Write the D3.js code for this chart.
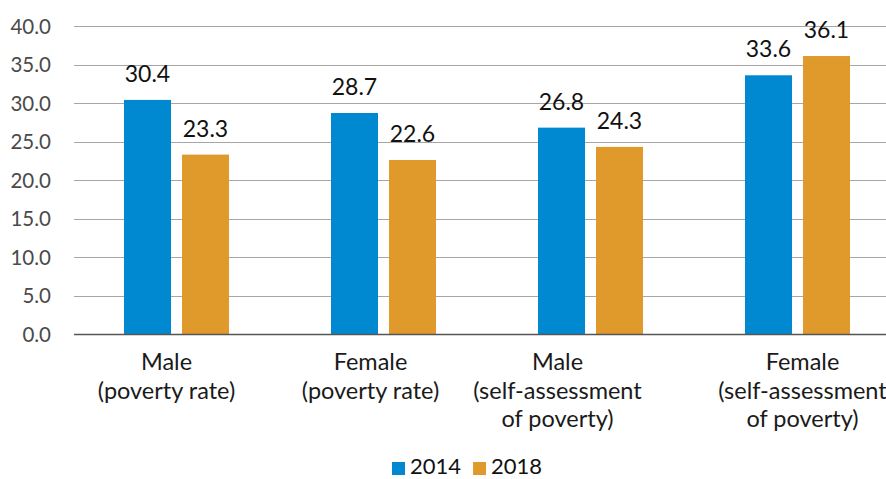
<!DOCTYPE html>
<html><head><meta charset="utf-8">
<script src="https://cdn.jsdelivr.net/npm/d3@7"></script>
<style>
html,body{margin:0;padding:0;background:#fff;}
svg{display:block;font-family:Lato, "Open Sans", sans-serif;}
</style></head>
<body>
<svg id="chart" width="886" height="479"></svg>
<script>
const categories = [
  ["Male", "(poverty rate)"],
  ["Female", "(poverty rate)"],
  ["Male", "(self-assessment", "of poverty)"],
  ["Female", "(self-assessment", "of poverty)"]
];
const seriesNames = ["2014", "2018"];
const values2014 = [30.4, 28.7, 26.8, 33.6];
const values2018 = [23.3, 22.6, 24.3, 36.1];
const yTicks = [0, 5, 10, 15, 20, 25, 30, 35, 40];

// layout constants (not data)
const colors = {"2014": "#0088D0", "2018": "#E09A2B"};
const labelDx = [-10, -13, -33, 5];

const svg = d3.select("#chart");
const plotLeft = 74, plotRight = 886, y0 = 334, yTop = 26;

const x = d3.scaleBand().domain(d3.range(categories.length)).range([73, 901]);
const xs = d3.scaleBand().domain(seriesNames).range([-52.5, 52.5]).paddingInner(0.19);
const y = d3.scaleLinear().domain([0, 40]).range([y0, yTop]);

// gridlines
svg.append("g").selectAll("line").data(yTicks.filter(d => d > 0)).join("line")
  .attr("x1", plotLeft).attr("x2", plotRight)
  .attr("y1", d => Math.round(y(d)) + 0.5).attr("y2", d => Math.round(y(d)) + 0.5)
  .attr("stroke", "#A6A6A6").attr("stroke-width", 1);

// y axis labels
const yAxis = d3.axisLeft(y).tickValues(yTicks).tickFormat(d3.format(".1f")).tickSize(0).tickPadding(0);
const gy = svg.append("g").attr("transform", "translate(51,0)").call(yAxis);
gy.select(".domain").remove();
gy.selectAll("text").attr("font-size", 20.5).attr("fill", "#4a4a4a").attr("font-family", "Lato").attr("dy", "0.36em");

// bars
const rows = seriesNames.map((s, si) => ({s, vals: si === 0 ? values2014 : values2018}));
rows.forEach(r => {
  const g = svg.append("g");
  g.selectAll("rect").data(r.vals).join("rect")
    .attr("x", (d, i) => x(i) + x.bandwidth() / 2 + xs(r.s))
    .attr("width", xs.bandwidth())
    .attr("y", d => y(d))
    .attr("height", d => y(0) - y(d))
    .attr("fill", colors[r.s]);
  g.selectAll("text").data(r.vals).join("text")
    .attr("x", (d, i) => x(i) + x.bandwidth() / 2 + xs(r.s) + xs.bandwidth() / 2)
    .attr("y", d => y(d) - 18)
    .attr("text-anchor", "middle")
    .attr("font-size", 23).attr("fill", "#111")
    .text(d => d3.format(".1f")(d));
});

// x axis line
svg.append("line").attr("x1", plotLeft).attr("x2", plotRight)
  .attr("y1", y0 + 0.5).attr("y2", y0 + 0.5).attr("stroke", "#555").attr("stroke-width", 1.5);

// category labels
categories.forEach((lines, i) => {
  const cx = x(i) + x.bandwidth() / 2 + labelDx[i];
  const t = svg.append("text")
    .attr("x", cx).attr("y", 370)
    .attr("text-anchor", "middle").attr("font-size", 23.5).attr("fill", "#1a1a1a");
  lines.forEach((l, j) => {
    t.append("tspan").attr("x", cx).attr("dy", j === 0 ? 0 : 28.5).text(l);
  });
});

// legend
const legend = svg.append("g").attr("transform", "translate(392,474)");
let lx = 0;
seriesNames.forEach(s => {
  legend.append("rect").attr("x", lx).attr("y", -12).attr("width", 13).attr("height", 13).attr("fill", colors[s]);
  const t = legend.append("text").attr("x", lx + 18).attr("y", 0).attr("font-size", 22).attr("fill", "#111").text(s);
  lx += 18 + t.node().getComputedTextLength() + 12;
});
</script>
</body></html>
